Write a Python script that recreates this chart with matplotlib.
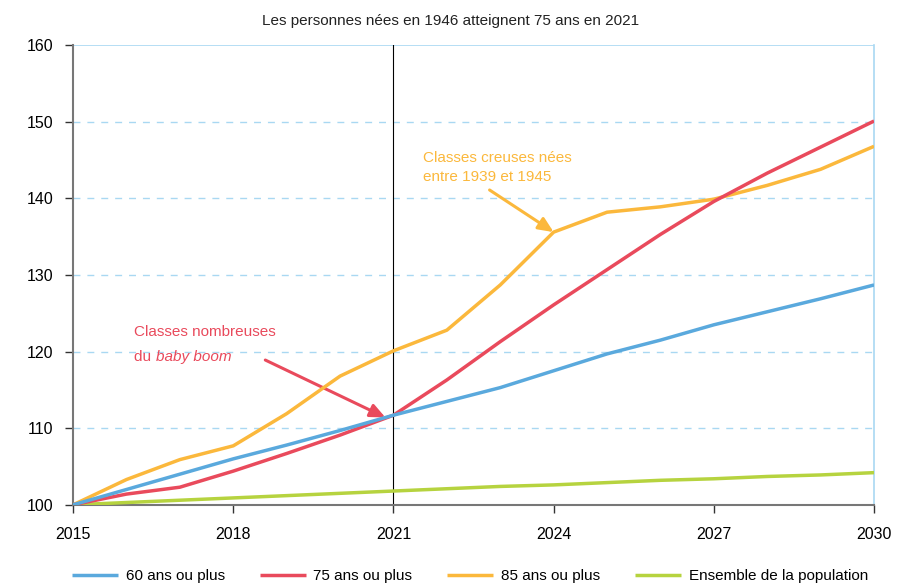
import matplotlib
matplotlib.use('Agg')
import matplotlib.pyplot as plt

plt.rcParams['font.family'] = ['Liberation Sans', 'DejaVu Sans']

# Data (index base 100 in 2015)
years = list(range(2015, 2031))
pop_60 = [100, 102.0, 104.0, 106.0, 107.8, 109.7, 111.7, 113.5, 115.3, 117.5,
          119.7, 121.5, 123.5, 125.2, 126.9, 128.7]
pop_75 = [100, 101.4, 102.3, 104.4, 106.7, 109.1, 111.7, 116.3, 121.3, 126.1,
          130.7, 135.3, 139.6, 143.3, 146.7, 150.1]
pop_85 = [100, 103.3, 105.9, 107.7, 111.9, 116.8, 120.1, 122.8, 128.7, 135.6,
          138.2, 138.9, 139.9, 141.7, 143.8, 146.8]
pop_all = [100, 100.3, 100.6, 100.9, 101.2, 101.5, 101.8, 102.1, 102.4, 102.6,
           102.9, 103.2, 103.4, 103.7, 103.9, 104.2]

labels = ['60 ans ou plus', '75 ans ou plus', '85 ans ou plus', 'Ensemble de la population']
colors = ['#5aa9dd', '#e94a5c', '#fbb83c', '#b6d33f']

fig = plt.figure(figsize=(9.02, 5.87), dpi=100)
ax = fig.add_axes([0.081, 0.14, 0.888, 0.783])

# Grid lines
for v in [110, 120, 130, 140, 150]:
    ax.axhline(v, color='#a9d8f2', lw=1, dashes=(5, 5), zorder=1)
ax.axhline(160, color='#a9d8f2', lw=1.2, zorder=1)
ax.axvline(2021, color='black', lw=0.8, zorder=2)

series = [pop_60, pop_75, pop_85, pop_all]
# draw order: green, yellow, red, blue on top
order = [3, 2, 1, 0]
lines = {}
for i in order:
    ln, = ax.plot(years, series[i], color=colors[i], lw=2.5, label=labels[i],
                  zorder=3 + (3 - i), solid_capstyle='butt')
    lines[i] = ln

ax.set_xlim(2015, 2030)
ax.set_ylim(100, 160)
ax.set_xticks([2015, 2018, 2021, 2024, 2027, 2030])
ax.set_yticks([100, 110, 120, 130, 140, 150, 160])
ax.tick_params(axis='both', labelsize=11.5, length=6, width=1, color='#333333')
ax.tick_params(axis='x', pad=10)
ax.tick_params(axis='y', pad=8)

for s in ['left', 'bottom']:
    ax.spines[s].set_color('#777777')
    ax.spines[s].set_linewidth(1.5)
ax.spines['top'].set_visible(False)
ax.spines['right'].set_color('#a9d8f2')
ax.spines['right'].set_linewidth(1.2)

# Annotations
ax.text(2021.55, 146.2, 'Classes creuses nées\nentre 1939 et 1945', color='#fbb83c',
        fontsize=11, va='top', ha='left', linespacing=1.45)
ax.annotate('', xy=(2024.0, 135.6), xytext=(2022.8, 141.1),
            arrowprops=dict(arrowstyle='-|>,head_length=0.9,head_width=0.4',
                            color='#fbb83c', lw=2.2, shrinkA=0, shrinkB=0))

ax.text(2016.15, 123.5, 'Classes nombreuses', color='#e94a5c',
        fontsize=11, va='top', ha='left')
du = ax.text(2016.15, 120.2, 'du ', color='#e94a5c',
             fontsize=11, va='top', ha='left')
ax.annotate('baby boom', xy=(1, 0), xycoords=du, va='bottom', ha='left',
            color='#e94a5c', fontsize=11, style='italic')
ax.annotate('', xy=(2020.85, 111.4), xytext=(2018.6, 118.9),
            arrowprops=dict(arrowstyle='-|>,head_length=0.9,head_width=0.4',
                            color='#e94a5c', lw=2.2, shrinkA=0, shrinkB=0))

fig.text(0.5, 0.965, 'Les personnes nées en 1946 atteignent 75 ans en 2021',
         ha='center', va='center', fontsize=11, color='#222222')

handles = [lines[i] for i in range(4)]
fig.legend(handles, labels, loc='lower left', ncol=4, frameon=False,
           fontsize=11, bbox_to_anchor=(0.068, -0.012), handlelength=3.0,
           columnspacing=2.3, handletextpad=0.5, borderaxespad=0.3)

fig.savefig('out.png', dpi=100)
